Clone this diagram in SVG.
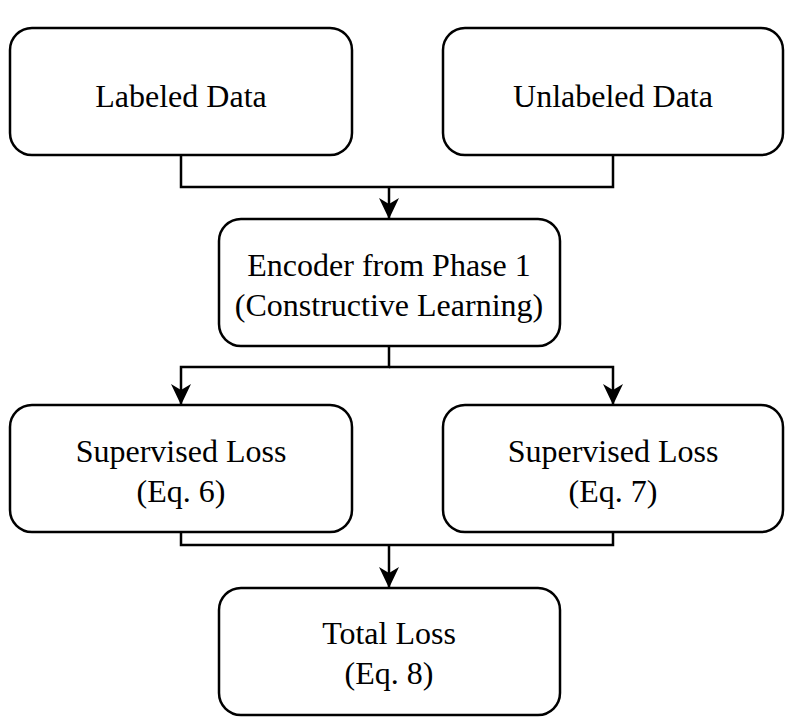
<svg xmlns="http://www.w3.org/2000/svg" width="791" height="722" viewBox="0 0 791 722">
<style>
.box{fill:#fff;stroke:#000;stroke-width:2.5}
.t{font-family:"Liberation Serif",serif;font-size:32px;text-anchor:middle;fill:#000}
.c{fill:none;stroke:#000;stroke-width:2.5}
</style>
<defs><marker id="a" markerWidth="22" markerHeight="22" refX="20" refY="11" orient="auto" markerUnits="userSpaceOnUse" viewBox="0 0 22 22"><path d="M0,1 L21,11 L0,21 L6,11 Z" fill="#000"/></marker></defs>
<rect width="791" height="722" fill="#fff"/>
<g id="connectors">
<path class="c" d="M181,155 V187 H613 V155"/>
<path class="c" d="M389,187 V218" marker-end="url(#a)"/>
<path class="c" d="M389,346 V367 H181 V404" marker-end="url(#a)"/>
<path class="c" d="M389,367 H613 V404" marker-end="url(#a)"/>
<path class="c" d="M181,532 V545 H613 V532"/>
<path class="c" d="M389,545 V587" marker-end="url(#a)"/>
</g>
<g id="labeled"><rect class="box" x="10" y="28" width="342" height="127" rx="22"/><text class="t" x="181" y="107">Labeled Data</text></g>
<g id="unlabeled"><rect class="box" x="443" y="28" width="340" height="127" rx="22"/><text class="t" x="613" y="107">Unlabeled Data</text></g>
<g id="encoder"><rect class="box" x="219" y="219" width="341" height="127" rx="22"/><text class="t" x="389" y="276">Encoder from Phase 1</text><text class="t" x="389" y="316">(Constructive Learning)</text></g>
<g id="sup6"><rect class="box" x="10" y="405" width="342" height="127" rx="22"/><text class="t" x="181" y="462">Supervised Loss</text><text class="t" x="181" y="502">(Eq. 6)</text></g>
<g id="sup7"><rect class="box" x="443" y="405" width="340" height="127" rx="22"/><text class="t" x="613" y="462">Supervised Loss</text><text class="t" x="613" y="502">(Eq. 7)</text></g>
<g id="total"><rect class="box" x="219" y="588" width="341" height="127" rx="22"/><text class="t" x="389" y="644">Total Loss</text><text class="t" x="389" y="684">(Eq. 8)</text></g>
</svg>
